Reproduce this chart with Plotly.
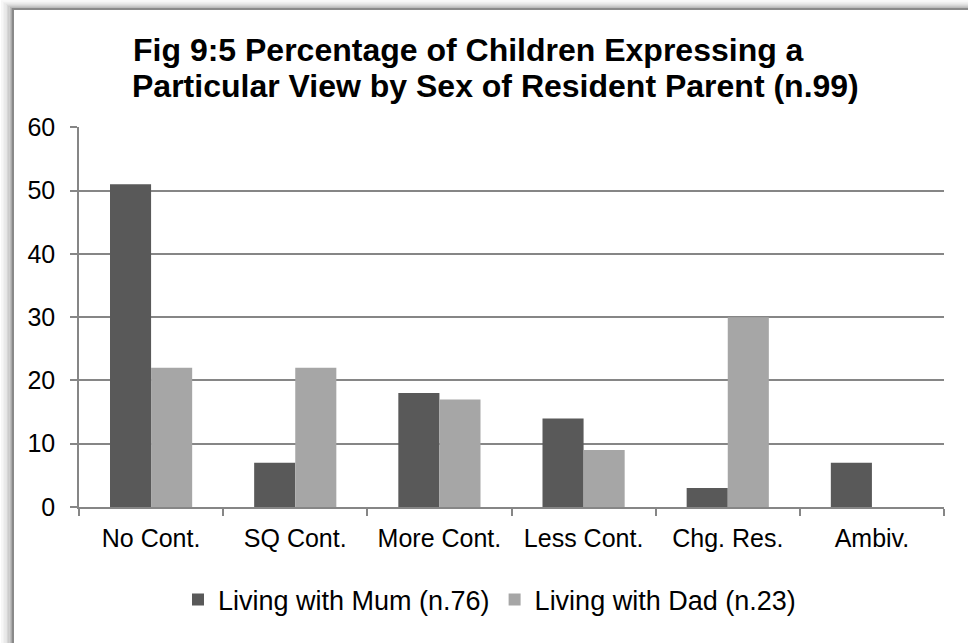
import plotly.graph_objects as go

categories = ["No Cont.", "SQ Cont.", "More Cont.", "Less Cont.", "Chg. Res.", "Ambiv."]
mum_values = [51, 7, 18, 14, 3, 7]
dad_values = [22, 22, 17, 9, 30, 0]
series_names = ["Living with Mum (n.76)", "Living with Dad (n.23)"]
title_line1 = "Fig 9:5 Percentage of Children Expressing a"
title_line2 = "Particular View by Sex of Resident Parent (n.99)"

W, H = 968, 643
L, R, T, B = 79, 944, 127, 507  # plot area pixel bounds

def px(x):
    return (x - L) / (R - L)

def py(y):
    return (B - y) / (B - T)

FONT = "Liberation Sans, Arial, sans-serif"
TITLE_SIZE = 32

fig = go.Figure()
fig.add_trace(go.Bar(x=categories, y=mum_values, name=series_names[0],
                     marker=dict(color="#595959", line=dict(width=0))))
fig.add_trace(go.Bar(x=categories, y=dad_values, name=series_names[1],
                     marker=dict(color="#a6a6a6", line=dict(width=0))))

shapes = []
# soft shadow of the chart frame (towards top-left)
fx0, fy0 = 13, 9
shadow = ["#a9a9a9", "#bababa", "#c9c9c9", "#d6d6d6", "#e1e1e1", "#eaeaea", "#f1f1f1", "#f7f7f7"]
for i, c in enumerate(shadow):
    off = i + 1
    shapes.append(dict(type="rect", xref="paper", yref="paper",
                       x0=px(fx0 - off * 1.4), y0=py(H + 30), x1=px(W + 40), y1=py(fy0 - off),
                       line=dict(color=c, width=1.5), layer="below"))
shapes.append(dict(type="rect", xref="paper", yref="paper",
                   x0=px(fx0), y0=py(H + 30), x1=px(W + 40), y1=py(fy0),
                   line=dict(color="#8a8a8a", width=2), layer="below"))

fig.update_layout(
    width=W, height=H,
    margin=dict(l=L, r=W - R, t=T, b=H - B, pad=0),
    paper_bgcolor="white", plot_bgcolor="white",
    barmode="group", bargap=0.43, bargroupgap=0,
    font=dict(family=FONT, size=25, color="#000000"),
    title=dict(text="<b>" + title_line1 + "</b>", x=133 / W, xanchor="left",
               xref="container", yref="container", y=1 - 50 / H, yanchor="middle",
               font=dict(size=TITLE_SIZE, color="#000000", family=FONT)),
    annotations=[dict(text="<b>" + title_line2 + "</b>", xref="paper", yref="paper",
                      x=px(130), xanchor="left", y=py(86), yanchor="middle",
                      showarrow=False, font=dict(size=TITLE_SIZE, color="#000000", family=FONT))],
    showlegend=True,
    legend=dict(orientation="h", x=px(178), xanchor="left", y=py(600), yanchor="middle",
                font=dict(size=27), traceorder="normal", itemwidth=30,
                bgcolor="rgba(0,0,0,0)", borderwidth=0),
    shapes=shapes,
    xaxis=dict(showgrid=False, showline=True, linecolor="#868686", linewidth=1.5,
               ticks="outside", ticklen=7, tickcolor="#868686", tickwidth=1.5,
               tickson="boundaries", tickfont=dict(size=25), ticklabelstandoff=8),
    yaxis=dict(range=[0, 60.05], tickvals=[0, 10, 20, 30, 40, 50, 60], showgrid=True,
               gridcolor="#868686", gridwidth=1.5,
               showline=True, linecolor="#868686", linewidth=1.5,
               ticks="outside", ticklen=7, tickcolor="#868686", tickwidth=1.5,
               tickfont=dict(size=25), zeroline=False, ticklabelstandoff=10),
)

fig.write_html("out.html", config={"displayModeBar": False},
               post_script="document.body.style.margin='0';")
